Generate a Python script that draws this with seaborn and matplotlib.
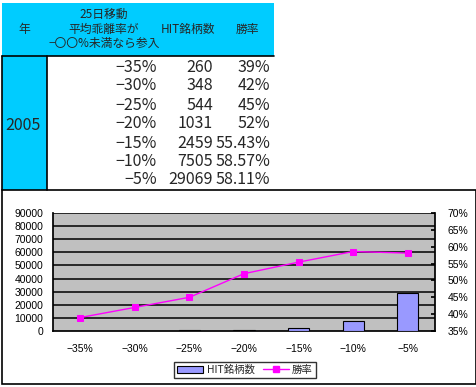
import matplotlib
matplotlib.use("Agg")
import matplotlib.pyplot as plt
import seaborn as sns
import pandas as pd
import numpy as np
from matplotlib.patches import Rectangle, Patch
from matplotlib.lines import Line2D
from matplotlib.ticker import FuncFormatter, FixedLocator

sns.set_theme(style="white")
plt.rcParams['font.family'] = ['Liberation Sans', 'Noto Sans CJK JP', 'DejaVu Sans']
plt.rcParams['axes.unicode_minus'] = True

year = "2005"
categories = ["−35%", "−30%", "−25%", "−20%", "−15%", "−10%", "−5%"]
hit_counts = [260, 348, 544, 1031, 2459, 7505, 29069]
win_rates = [39, 42, 45, 52, 55.43, 58.57, 58.11]
header_labels = ["年", "25日移動\n平均乖離率が\n−〇〇%未満なら参入", "HIT銘柄数", "勝率"]
legend_labels = ["HIT銘柄数", "勝率"]

df = pd.DataFrame({"cat": categories, "hit": hit_counts, "win": [w / 100 for w in win_rates]})

W, H = 477, 387
fig = plt.figure(figsize=(W / 100, H / 100), dpi=100)

ov = fig.add_axes([0, 0, 1, 1])
ov.set_xlim(0, W)
ov.set_ylim(H, 0)
ov.axis("off")

cyan = "#00CCFF"
jp = ['Noto Sans CJK JP', 'DejaVu Sans']
ov.add_patch(Rectangle((2, 3), 272, 53, facecolor=cyan, edgecolor="none"))
ov.add_patch(Rectangle((2, 56), 45, 135, facecolor=cyan, edgecolor="none"))
ov.plot([2, 274], [56, 56], color="black", lw=1.2)
ov.plot([47, 47], [56, 190], color="black", lw=1.2)
ov.plot([2, 2], [56, 190], color="black", lw=1.2)

ov.text(24, 29, header_labels[0], ha="center", va="center", fontsize=8.5, family=jp)
ov.text(104, 29, header_labels[1], ha="center", va="center", fontsize=8.5, family=jp, linespacing=1.15)
ov.text(188, 29, header_labels[2], ha="center", va="center", fontsize=8.5, family=jp)
ov.text(247, 29, header_labels[3], ha="center", va="center", fontsize=8.5, family=jp)
ov.text(23, 125, year, ha="center", va="center", fontsize=11.5, family=jp)

row_y = [67, 86, 105, 124, 143, 162, 180]
for i, (c, h, w) in enumerate(zip(categories, hit_counts, win_rates)):
    ov.text(157, row_y[i], c, ha="right", va="center", fontsize=11.5, family=jp)
    ov.text(213, row_y[i], f"{h}", ha="right", va="center", fontsize=11.5, family=jp)
    ov.text(270, row_y[i], f"{w:g}%", ha="right", va="center", fontsize=11.5, family=jp)

ov.add_patch(Rectangle((2, 190), 474, 194, facecolor="white", edgecolor="black", lw=1.2))

left, right, top, bottom = 53, 435, 213, 331
ax = fig.add_axes([left / W, (H - bottom) / H, (right - left) / W, (bottom - top) / H])
ax.set_facecolor("#C0C0C0")
ax.grid(False)
ax.set_ylim(0, 90000)
yt = np.arange(0, 90001, 10000)
ax.set_yticks(yt)
# horizontal gridlines at the left-axis ticks (drawn under the bars)
ax.hlines(yt[1:], -0.5, 6.5, colors="black", linewidth=1.1, zorder=1)
sns.barplot(data=df, x="cat", y="hit", ax=ax, color="#9999FF", saturation=1,
            edgecolor="black", linewidth=0.8, width=0.39, zorder=3)
ax.set_ylim(0, 90000)
ax.set_xlabel("")
ax.set_ylabel("")
ax.tick_params(axis="y", labelsize=7.5, length=0, pad=7, colors="black")
ax.tick_params(axis="x", which="major", labelsize=7.5, length=0, pad=9, colors="black")
ax.xaxis.set_minor_locator(FixedLocator(np.arange(-0.5, 7, 1)))
ax.tick_params(axis="x", which="minor", length=4, direction="out", color="black", width=0.8)
for s in ax.spines.values():
    s.set_visible(False)
ax.spines["left"].set_visible(True)
ax.spines["left"].set_color("black")
ax.spines["bottom"].set_visible(True)
ax.spines["bottom"].set_color("black")

ax2 = ax.twinx()
sns.pointplot(data=df, x="cat", y="win", ax=ax2, color="#FF00FF", markers="s",
              markersize=4.5, linewidth=1, zorder=4)
ax2.grid(False)
ax2.set_ylim(0.35, 0.70)
ax2.set_yticks(np.arange(0.35, 0.7001, 0.05))
ax2.yaxis.set_major_formatter(FuncFormatter(lambda v, p: f"{round(v * 100)}%"))
ax2.set_ylabel("")
ax2.set_xlabel("")
ax2.tick_params(axis="y", labelsize=7.5, length=3, direction="in", pad=9, colors="black")
for s in ax2.spines.values():
    s.set_visible(False)
ax2.spines["right"].set_visible(True)
ax2.spines["right"].set_color("black")
ax.set_xlim(-0.5, 6.5)
ax2.set_xlim(-0.5, 6.5)

handles = [Patch(facecolor="#9999FF", edgecolor="black", lw=0.8),
           Line2D([0], [0], color="#FF00FF", marker="s", markersize=4.5, lw=1)]
leg = fig.legend(handles, legend_labels, loc="center", bbox_to_anchor=(245 / W, (H - 370) / H),
                 ncol=2, frameon=True, fancybox=False, handlelength=2.5,
                 columnspacing=0.8, handletextpad=0.3, borderpad=0.3, prop={'family': jp, 'size': 7.5})
leg.get_frame().set_edgecolor("black")
leg.get_frame().set_linewidth(1)

fig.savefig("out.png", dpi=100)
